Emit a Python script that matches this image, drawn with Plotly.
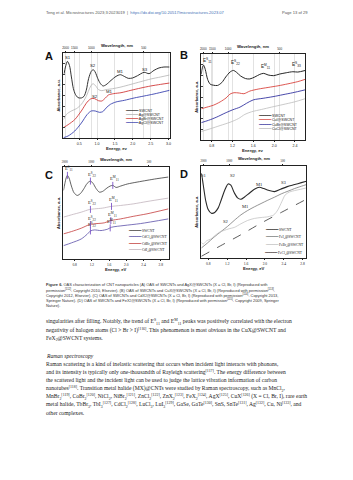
import plotly.graph_objects as go
import numpy as np

W, H = 353, 480

# ---------------- Panel A: AgX@SWCNT ----------------
a_sw_e = [0.078, 0.115, 0.171, 0.227, 0.282, 0.338, 0.393, 0.467, 0.560, 0.634, 0.698, 0.763, 0.837, 0.893, 0.948,
          1.022, 1.096, 1.170, 1.253, 1.392, 1.531, 1.651, 1.762, 1.873, 1.993, 2.132, 2.317, 2.456, 2.595, 2.733, 2.872, 3.03]
a_sw_y = [0.757, 0.835, 0.902, 0.855, 0.718, 0.580, 0.514, 0.475, 0.471, 0.490, 0.561, 0.698, 0.784, 0.804, 0.776,
          0.698, 0.639, 0.612, 0.627, 0.678, 0.725, 0.745, 0.725, 0.702, 0.706, 0.733, 0.773, 0.757, 0.796, 0.824, 0.835, 0.835]
a_ag_e = [0.06, 0.143, 0.282, 0.421, 0.560, 0.698, 0.809, 0.883, 0.957, 1.041, 1.133, 1.253, 1.438, 1.670, 1.947, 2.225, 2.502, 2.780, 3.03]
a_ag_y = [0.216, 0.278, 0.318, 0.345, 0.396, 0.490, 0.600, 0.639, 0.616, 0.569, 0.557, 0.569, 0.580, 0.600, 0.631, 0.663, 0.694, 0.718, 0.741]
a_agbr_e = [0.06, 0.19, 0.375, 0.560, 0.726, 0.837, 0.930, 1.041, 1.133, 1.225, 1.318, 1.466, 1.670, 1.947, 2.225, 2.502, 2.780, 3.03]
a_agbr_y = [0.122, 0.157, 0.216, 0.318, 0.424, 0.463, 0.463, 0.439, 0.435, 0.467, 0.506, 0.522, 0.533, 0.561, 0.588, 0.612, 0.631, 0.647]
a_agcl_e = [0.06, 0.19, 0.375, 0.560, 0.726, 0.837, 0.948, 1.068, 1.161, 1.253, 1.373, 1.531, 1.762, 2.040, 2.317, 2.595, 3.03]
a_agcl_y = [0.004, 0.024, 0.082, 0.176, 0.278, 0.318, 0.318, 0.302, 0.310, 0.353, 0.396, 0.424, 0.443, 0.471, 0.494, 0.518, 0.561]
a_names = ["SWCNT", "Ag@SWCNT", "AgBr@SWCNT", "AgCl@SWCNT"]
a_colors = ["#333333", "#b4b4b4", "#d03a3a", "#3b44b0"]
a_top_e = [0.116, 0.365, 0.837, 2.308]
a_top_txt = ["2000", "1500", "1000", "500"]
a_lab_txt = ["S1", "S2", "M1", "S3", "S2", "M1"]
a_lab_e = [0.18, 0.90, 1.65, 2.34, 0.93, 1.35]
a_lab_y = [0.95, 0.85, 0.78, 0.81, 0.49, 0.545]

# ---------------- Panel B: CuX@SWCNT ----------------
b_sw_e = [0.6, 0.619, 0.644, 0.676, 0.721, 0.771, 0.835, 0.911, 0.994, 1.070, 1.152, 1.216, 1.279, 1.356, 1.451,
          1.533, 1.629, 1.724, 1.800, 1.883, 1.990, 2.105, 2.232, 2.359, 2.454, 2.6]
b_sw_y = [0.763, 0.840, 0.870, 0.821, 0.706, 0.649, 0.637, 0.634, 0.668, 0.733, 0.790, 0.809, 0.786, 0.744, 0.714,
          0.710, 0.733, 0.763, 0.775, 0.756, 0.748, 0.767, 0.782, 0.794, 0.790, 0.809]
b_cui_e = [0.6, 0.708, 0.835, 0.962, 1.076, 1.152, 1.229, 1.330, 1.419, 1.533, 1.692, 1.883, 2.073, 2.264, 2.454, 2.6]
b_cui_y = [0.363, 0.382, 0.405, 0.443, 0.489, 0.534, 0.550, 0.546, 0.538, 0.569, 0.592, 0.611, 0.630, 0.653, 0.679, 0.706]
b_cubr_e = [0.6, 0.740, 0.898, 1.057, 1.203, 1.343, 1.470, 1.597, 1.787, 1.978, 2.168, 2.359, 2.6]
b_cubr_y = [0.202, 0.229, 0.267, 0.313, 0.351, 0.382, 0.427, 0.466, 0.485, 0.504, 0.527, 0.550, 0.584]
b_cucl_e = [0.6, 0.771, 0.962, 1.152, 1.311, 1.438, 1.565, 1.756, 1.946, 2.168, 2.390, 2.6]
b_cucl_y = [0.099, 0.130, 0.168, 0.206, 0.248, 0.298, 0.328, 0.355, 0.382, 0.412, 0.443, 0.481]
b_names = ["SWCNT", "CuI@SWCNT", "CuBr@SWCNT", "CuCl@SWCNT"]
b_colors = ["#262626", "#d9453f", "#3434a0", "#bdbdbd"]
b_top_e = [0.638, 0.81, 1.114, 2.105]
b_top_txt = ["2000", "1500", "1000", "500"]
b_lab_txt = ["E<sup>S</sup><sub>11</sub>", "E<sup>S</sup><sub>22</sub>", "E<sup>M</sup><sub>11</sub>", "E<sup>S</sup><sub>33</sub>"]
b_lab_e = [0.71, 1.25, 1.84, 2.43]
b_lab_y = [0.92, 0.90, 0.86, 0.88]

# ---------------- Panel C: CdX2@SWCNT ----------------
c_sw_e = [0.540, 0.571, 0.602, 0.632, 0.670, 0.724, 0.785, 0.861, 0.937, 1.014, 1.090, 1.166, 1.227, 1.296, 1.373,
          1.449, 1.548, 1.624, 1.685, 1.762, 1.869, 2.021, 2.250, 2.479, 2.708, 2.976]
c_sw_y = [0.745, 0.818, 0.880, 0.909, 0.880, 0.793, 0.720, 0.691, 0.713, 0.764, 0.822, 0.847, 0.822, 0.767, 0.727,
          0.735, 0.771, 0.793, 0.800, 0.778, 0.793, 0.815, 0.836, 0.855, 0.873, 0.891]
c_cdcl_e = [0.540, 0.724, 0.953, 1.090, 1.166, 1.258, 1.411, 1.563, 1.655, 1.945, 2.327, 2.976]
c_cdcl_y = [0.145, 0.175, 0.218, 0.269, 0.305, 0.316, 0.309, 0.324, 0.345, 0.364, 0.385, 0.436]
c_cdbr_e = [0.540, 0.724, 0.953, 1.128, 1.243, 1.487, 1.640, 1.869, 2.174, 2.479, 2.976]
c_cdbr_y = [0.273, 0.298, 0.335, 0.371, 0.382, 0.393, 0.418, 0.436, 0.465, 0.491, 0.545]
c_cdi_e = [0.540, 0.724, 0.953, 1.143, 1.258, 1.449, 1.640, 1.869, 2.174, 2.479, 2.976]
c_cdi_y = [0.455, 0.480, 0.509, 0.538, 0.545, 0.553, 0.571, 0.582, 0.600, 0.625, 0.662]
c_names = ["SWCNT", "CdCl<sub>2</sub>@SWCNT", "CdBr<sub>2</sub>@SWCNT", "CdI<sub>2</sub>@SWCNT"]
c_colors = ["#3a3a3a", "#5b4fa8", "#c43c3c", "#c2b4bc"]
c_mark_e = [[0.632, 1.166, 1.685], [1.166, 1.625], [1.166, 1.64], [1.166, 1.655]]
c_mark_txt = [["E<sup>S</sup><sub>11</sub>", "E<sup>S</sup><sub>22</sub>", "E<sup>M</sup><sub>11</sub>"],
              ["E<sup>S</sup><sub>22</sub>", "E<sup>M</sup><sub>11</sub>"],
              ["E<sup>S</sup><sub>22</sub>", "E<sup>M</sup><sub>11</sub>"],
              ["E<sup>S</sup><sub>22</sub>", "E<sup>M</sup><sub>11</sub>"]]
c_top_e = [0.57, 1.183, 2.523]
c_top_txt = ["2000", "1000", "500"]

# ---------------- Panel D: FeX2@SWCNT ----------------
d_sw_e = [0.650, 0.671, 0.707, 0.743, 0.793, 0.864, 0.935, 1.006, 1.078, 1.149, 1.220, 1.277, 1.348, 1.420, 1.491,
          1.562, 1.669, 1.776, 1.883, 1.975, 2.075, 2.203, 2.331, 2.474, 2.631, 2.773, 2.880]
d_sw_y = [0.921, 0.866, 0.740, 0.625, 0.531, 0.487, 0.495, 0.542, 0.639, 0.740, 0.805, 0.791, 0.711, 0.653, 0.639,
          0.661, 0.704, 0.747, 0.769, 0.755, 0.736, 0.722, 0.747, 0.776, 0.798, 0.819, 0.834]
d_fei_e = [0.650, 0.778, 0.921, 1.063, 1.206, 1.348, 1.491, 1.633, 1.776, 1.918, 2.061, 2.203, 2.346, 2.488, 2.631, 2.773, 2.880]
d_fei_y = [0.108, 0.162, 0.227, 0.285, 0.343, 0.408, 0.469, 0.516, 0.556, 0.592, 0.628, 0.661, 0.697, 0.726, 0.755, 0.780, 0.798]
d_febr_e = [0.650, 0.693, 0.764, 0.850, 0.935, 1.028, 1.134, 1.241, 1.348, 1.491, 1.633, 1.776, 1.918, 2.061, 2.189,
            2.274, 2.360, 2.431, 2.524, 2.631, 2.759, 2.880]
d_febr_y = [0.170, 0.152, 0.188, 0.206, 0.242, 0.278, 0.300, 0.318, 0.332, 0.372, 0.408, 0.430, 0.440, 0.448, 0.469,
            0.523, 0.614, 0.686, 0.718, 0.733, 0.747, 0.762]
d_fecl_e = [0.650, 1.063, 1.491, 1.918, 2.346, 2.880]
d_fecl_y = [0.018, 0.134, 0.253, 0.379, 0.495, 0.639]
d_names = ["SWCNT", "FeI<sub>2</sub>@SWCNT", "FeBr<sub>2</sub>@SWCNT", "FeCl<sub>2</sub>@SWCNT"]
d_colors = ["#2a2a2a", "#7a7a7a", "#c4c4c4", "#333333"]
d_lab_txt = ["S1", "S2", "M1", "S3", "S2", "M1"]
d_lab_e = [0.70, 1.33, 1.88, 2.40, 1.17, 1.58]
d_lab_y = [0.90, 0.90, 0.80, 0.82, 0.40, 0.56]
d_top_e = [0.698, 1.245, 2.381]
d_top_txt = ["2000", "1000", "500"]

SANS = "Liberation Sans, Arial, sans-serif"
SERIF = "Liberation Serif, Times New Roman, serif"


def px2paper(px, py):
    return px / W, 1 - py / H


fig = go.Figure()
annotations = []


def ann(px, py, text, size, family=SANS, color="#222", xanchor="left", yanchor="middle", angle=0):
    x, y = px2paper(px, py)
    annotations.append(dict(x=x, y=y, xref="paper", yref="paper", text=text, showarrow=False,
                            font=dict(size=size, family=family, color=color), xanchor=xanchor,
                            yanchor=yanchor, textangle=angle))


# panel frames: (left px, right px, top py, bottom py)
frames = {
    1: (62, 169, 53, 138),
    2: (201, 306, 54, 140),
    3: (62, 168, 167, 259),
    4: (201, 307, 166, 258),
}
xranges = {1: [0.06, 3.03], 2: [0.6, 2.6], 3: [0.54, 2.98], 4: [0.65, 2.88]}
bottom_ticks = {1: [0.5, 1.0, 1.5, 2.0, 2.5, 3.0], 2: [0.8, 1.2, 1.6, 2.0, 2.4],
                3: [0.8, 1.2, 1.6, 2.0, 2.4, 2.8], 4: [0.8, 1.2, 1.6, 2.0, 2.4, 2.8]}
bottom_txt = {1: ["0.5", "1.0", "1.5", "2.0", "2.5", "3.0"], 2: ["0.8", "1.2", "1.6", "2.0", "2.4"],
              3: ["0.8", "1.2", "1.6", "2.0", "2.4", "2.8"], 4: ["0.8", "1.2", "1.6", "2.0", "2.4", "2.8"]}
tops = {1: (a_top_e, a_top_txt), 2: (b_top_e, b_top_txt), 3: (c_top_e, c_top_txt), 4: (d_top_e, d_top_txt)}
gridded = {1: True, 2: True, 3: False, 4: False}

layout_axes = {}
for k, (l, r, t, b) in frames.items():
    xs = "xaxis" if k == 1 else f"xaxis{k}"
    ys = "yaxis" if k == 1 else f"yaxis{k}"
    yref = "y" if k == 1 else f"y{k}"
    xref = "x" if k == 1 else f"x{k}"
    fam = SANS if k <= 2 else SERIF
    layout_axes[xs] = dict(domain=[l / W, r / W], range=xranges[k], anchor=yref,
                           showline=True, mirror=True, linecolor="#222", linewidth=0.7,
                           tickvals=bottom_ticks[k], ticktext=bottom_txt[k], tickangle=0,
                           ticks="outside", ticklen=1.5, tickwidth=0.5,
                           tickcolor="#222", tickfont=dict(size=3.6, family=fam, color="#222"),
                           showgrid=gridded[k], gridcolor="#e2e2e2", gridwidth=0.6, zeroline=False)
    layout_axes[ys] = dict(domain=[1 - b / H, 1 - t / H], range=[0, 1], anchor=xref,
                           showline=True, mirror=True, linecolor="#222", linewidth=0.7,
                           showticklabels=False, ticks="inside" if k <= 2 else "", ticklen=1.5,
                           tickwidth=0.5, dtick=0.125, showgrid=False, zeroline=False)
    te, tt = tops[k]
    layout_axes[f"xaxis{k + 4}"] = dict(overlaying=xref, side="top", anchor=yref, range=xranges[k],
                                        tickvals=te, ticktext=tt, tickangle=0, ticks="outside", ticklen=1.5,
                                        tickwidth=0.5, tickcolor="#222",
                                        tickfont=dict(size=3.0, family=fam, color="#222"),
                                        showgrid=gridded[k], gridcolor="#e2e2e2", gridwidth=0.6,
                                        zeroline=False, showline=False)
    fig.add_trace(go.Scatter(x=xranges[k], y=[None, None], xaxis=f"x{k + 4}", yaxis=yref,
                             showlegend=False, hoverinfo="skip", mode="lines"))


def add_series(k, e, y, color, width=0.9, dash="solid"):
    xa = "x" if k == 1 else f"x{k}"
    ya = "y" if k == 1 else f"y{k}"
    fig.add_trace(go.Scatter(x=e, y=y, mode="lines", xaxis=xa, yaxis=ya, showlegend=False,
                             line=dict(color=color, width=width, dash=dash, shape="spline", smoothing=0.8)))


# Panel A
for e, y, c, w in zip([a_sw_e, a_ag_e, a_agbr_e, a_agcl_e], [a_sw_y, a_ag_y, a_agbr_y, a_agcl_y], a_colors,
                      [1.0, 0.8, 0.9, 0.9]):
    add_series(1, e, y, c, w)
# Panel B
for e, y, c, w in zip([b_sw_e, b_cui_e, b_cubr_e, b_cucl_e], [b_sw_y, b_cui_y, b_cubr_y, b_cucl_y], b_colors,
                      [1.0, 0.9, 0.9, 0.8]):
    add_series(2, e, y, c, w)
# Panel C
c_series = [(c_sw_e, c_sw_y), (c_cdcl_e, c_cdcl_y), (c_cdbr_e, c_cdbr_y), (c_cdi_e, c_cdi_y)]
for (e, y), c in zip(c_series, c_colors):
    add_series(3, e, y, c, 0.8)
for (e, y), me, mt in zip(c_series, c_mark_e, c_mark_txt):
    my = np.interp(me, e, y)
    fig.add_trace(go.Scatter(x=me, y=my, mode="markers", xaxis="x3", yaxis="y3", showlegend=False,
                             marker=dict(symbol="line-ns", size=5, line=dict(color="#7d55c8", width=0.9))))
    for xe, ye, tx in zip(me, my, mt):
        annotations.append(dict(x=xe + 0.04, y=ye + 0.07, xref="x3", yref="y3", text=tx, showarrow=False,
                                font=dict(size=4.6, family=SERIF, color="#222"), xanchor="center",
                                yanchor="middle"))
# Panel D
for e, y, c, w, dsh in zip([d_sw_e, d_fei_e, d_febr_e, d_fecl_e], [d_sw_y, d_fei_y, d_febr_y, d_fecl_y], d_colors,
                           [1.1, 0.8, 0.8, 0.8], ["solid", "solid", "solid", "dash"]):
    add_series(4, e, y, c, w, dsh)

# curve labels
for tx, e, y in zip(a_lab_txt, a_lab_e, a_lab_y):
    annotations.append(dict(x=e, y=y, xref="x", yref="y", text=tx, showarrow=False,
                            font=dict(size=4.3, family=SANS, color="#222"), xanchor="center", yanchor="middle"))
for tx, e, y in zip(b_lab_txt, b_lab_e, b_lab_y):
    annotations.append(dict(x=e, y=y, xref="x2", yref="y2", text=tx, showarrow=False,
                            font=dict(size=4.6, family=SANS, color="#222"), xanchor="center", yanchor="middle"))
for tx, e, y in zip(d_lab_txt, d_lab_e, d_lab_y):
    annotations.append(dict(x=e, y=y, xref="x4", yref="y4", text=tx, showarrow=False,
                            font=dict(size=4.6, family=SERIF, color="#222"), xanchor="center", yanchor="middle"))

# panel letters, axis titles
for letter, (px, py) in zip("ABCD", [(47, 56), (184, 55), (47, 175), (184, 174)]):
    ann(px, py, f"<b>{letter}</b>", 11, SANS, "#111", "center")
for k, (l, r, t, b) in frames.items():
    cx = (l + r) / 2
    ann(cx, t - 7.5, "<b>Wavelength, nm</b>", 4.2, SANS, "#222", "center")
    ann(cx, b + 10, "<b>Energy, ev</b>" if k <= 2 else "<b>Energy, eV</b>", 4.2, SANS, "#222", "center")
    ann(l - 5.5, (t + b) / 2, "<b>Absorbance, a.u.</b>", 4.0, SANS, "#222", "center", angle=-90)

# legends (text-based keys)
legend_pos = {1: (122, [111, 115, 118.8, 122.7]), 2: (256, [116, 120.2, 124.5, 128.7]),
              3: (125, [230.7, 237.3, 244.3, 250.7]), 4: (263, [230, 237.5, 245.3, 253])}
legend_data = {1: (a_names, a_colors, ["━"] * 4), 2: (b_names, b_colors, ["━"] * 4),
               3: (c_names, c_colors, ["━"] * 4), 4: (d_names, d_colors, ["━", "━", "━", "╍"])}
for k in range(1, 5):
    x0, rows = legend_pos[k]
    names, cols, glyphs = legend_data[k]
    fam = SANS if k <= 2 else SERIF
    for nm, col, g, ry in zip(names, cols, glyphs, rows):
        txt = f'<span style="color:{col}">{g * 6}</span> {nm}'
        ann(x0, ry, txt, 3.6, fam, "#222")

# header
ann(42, 12.5, 'Teng et al. Microstructures 2023;3:2023019  |  <span style="color:#3d6fb5">https://dx.doi.org/10.20517/microstructures.2023.07</span>',
    4.1, SANS, "#555")
ann(280, 12.5, "Page 13 of 29", 4.1, SANS, "#555")

# caption
caption = [
    "<b>Figure 6.</b> OAS characterization of CNT nanoparticles (A) OAS of SWCNTs and AgX@SWCNTs (X = Cl, Br, I) (Reproduced with",
    "permission<sup>[112]</sup>. Copyright 2010, Elsevier). (B) OAS of SWCNTs and CuX@SWCNTs (X = Cl, Br, I) (Reproduced with permission<sup>[113]</sup>.",
    "Copyright 2012, Elsevier). (C) OAS of SWCNTs and CdX<sub>2</sub>@SWCNTs (X = Cl, Br, I) (Reproduced with permission<sup>[114]</sup>. Copyright 2013,",
    "Springer Nature). (D) OAS of SWCNTs and FeX<sub>2</sub>@SWCNTs (X = Cl, Br, I) (Reproduced with permission<sup>[115]</sup>. Copyright 2009, Springer",
    "Nature).",
]
for i, line in enumerate(caption):
    ann(42, 284.5 + i * 5.2, line, 3.95, SANS, "#333")

body = [
    (322.0, "singularities after filling. Notably, the trend of E<sup>S</sup><sub>11</sub> and E<sup>M</sup><sub>11</sub> peaks was positively correlated with the electron"),
    (330.2, "negativity of halogen atoms (Cl &gt; Br &gt; I)<sup>[116]</sup>. This phenomenon is most obvious in the CuX@SWCNT and"),
    (338.4, "FeX<sub>2</sub>@SWCNT systems."),
    (355.6, "<i>Raman spectroscopy</i>"),
    (364.0, "Raman scattering is a kind of inelastic scattering that occurs when incident light interacts with phonons,"),
    (372.2, "and its intensity is typically only one-thousandth of Rayleigh scattering<sup>[117]</sup>. The energy difference between"),
    (380.4, "the scattered light and the incident light can be used to judge the lattice vibration information of carbon"),
    (388.6, "nanotubes<sup>[118]</sup>. Transition metal halide (MX)@CNTs were studied by Raman spectroscopy, such as MnCl<sub>2</sub>,"),
    (396.8, "MnBr<sub>2</sub><sup>[119]</sup>, CoBr<sub>2</sub><sup>[120]</sup>, NiCl<sub>2</sub>, NiBr<sub>2</sub><sup>[121]</sup>, ZnCl<sub>2</sub><sup>[122]</sup>, ZnX<sub>2</sub><sup>[123]</sup>, FeX<sub>2</sub><sup>[124]</sup>, AgX<sup>[125]</sup>, CuX<sup>[126]</sup> (X = Cl, Br, I), rare earth"),
    (405.0, "metal halide, TbBr<sub>3</sub>, TbI<sub>3</sub><sup>[127]</sup>, CdCl<sub>2</sub><sup>[128]</sup>, LuCl<sub>3</sub>, LuI<sub>3</sub><sup>[129]</sup>, GaSe, GaTe<sup>[130]</sup>, SnS, SnTe<sup>[131]</sup>, Ag<sup>[132]</sup>, Cu, Ni<sup>[133]</sup>, and"),
    (413.2, "other complexes."),
]
for py, line in body:
    ann(42, py, line, 5.6, SERIF, "#222")

fig.update_layout(width=W, height=H, margin=dict(l=0, r=0, t=0, b=0), paper_bgcolor="white",
                  plot_bgcolor="white", showlegend=False, annotations=annotations, **layout_axes)

fig.write_html("out.html")
